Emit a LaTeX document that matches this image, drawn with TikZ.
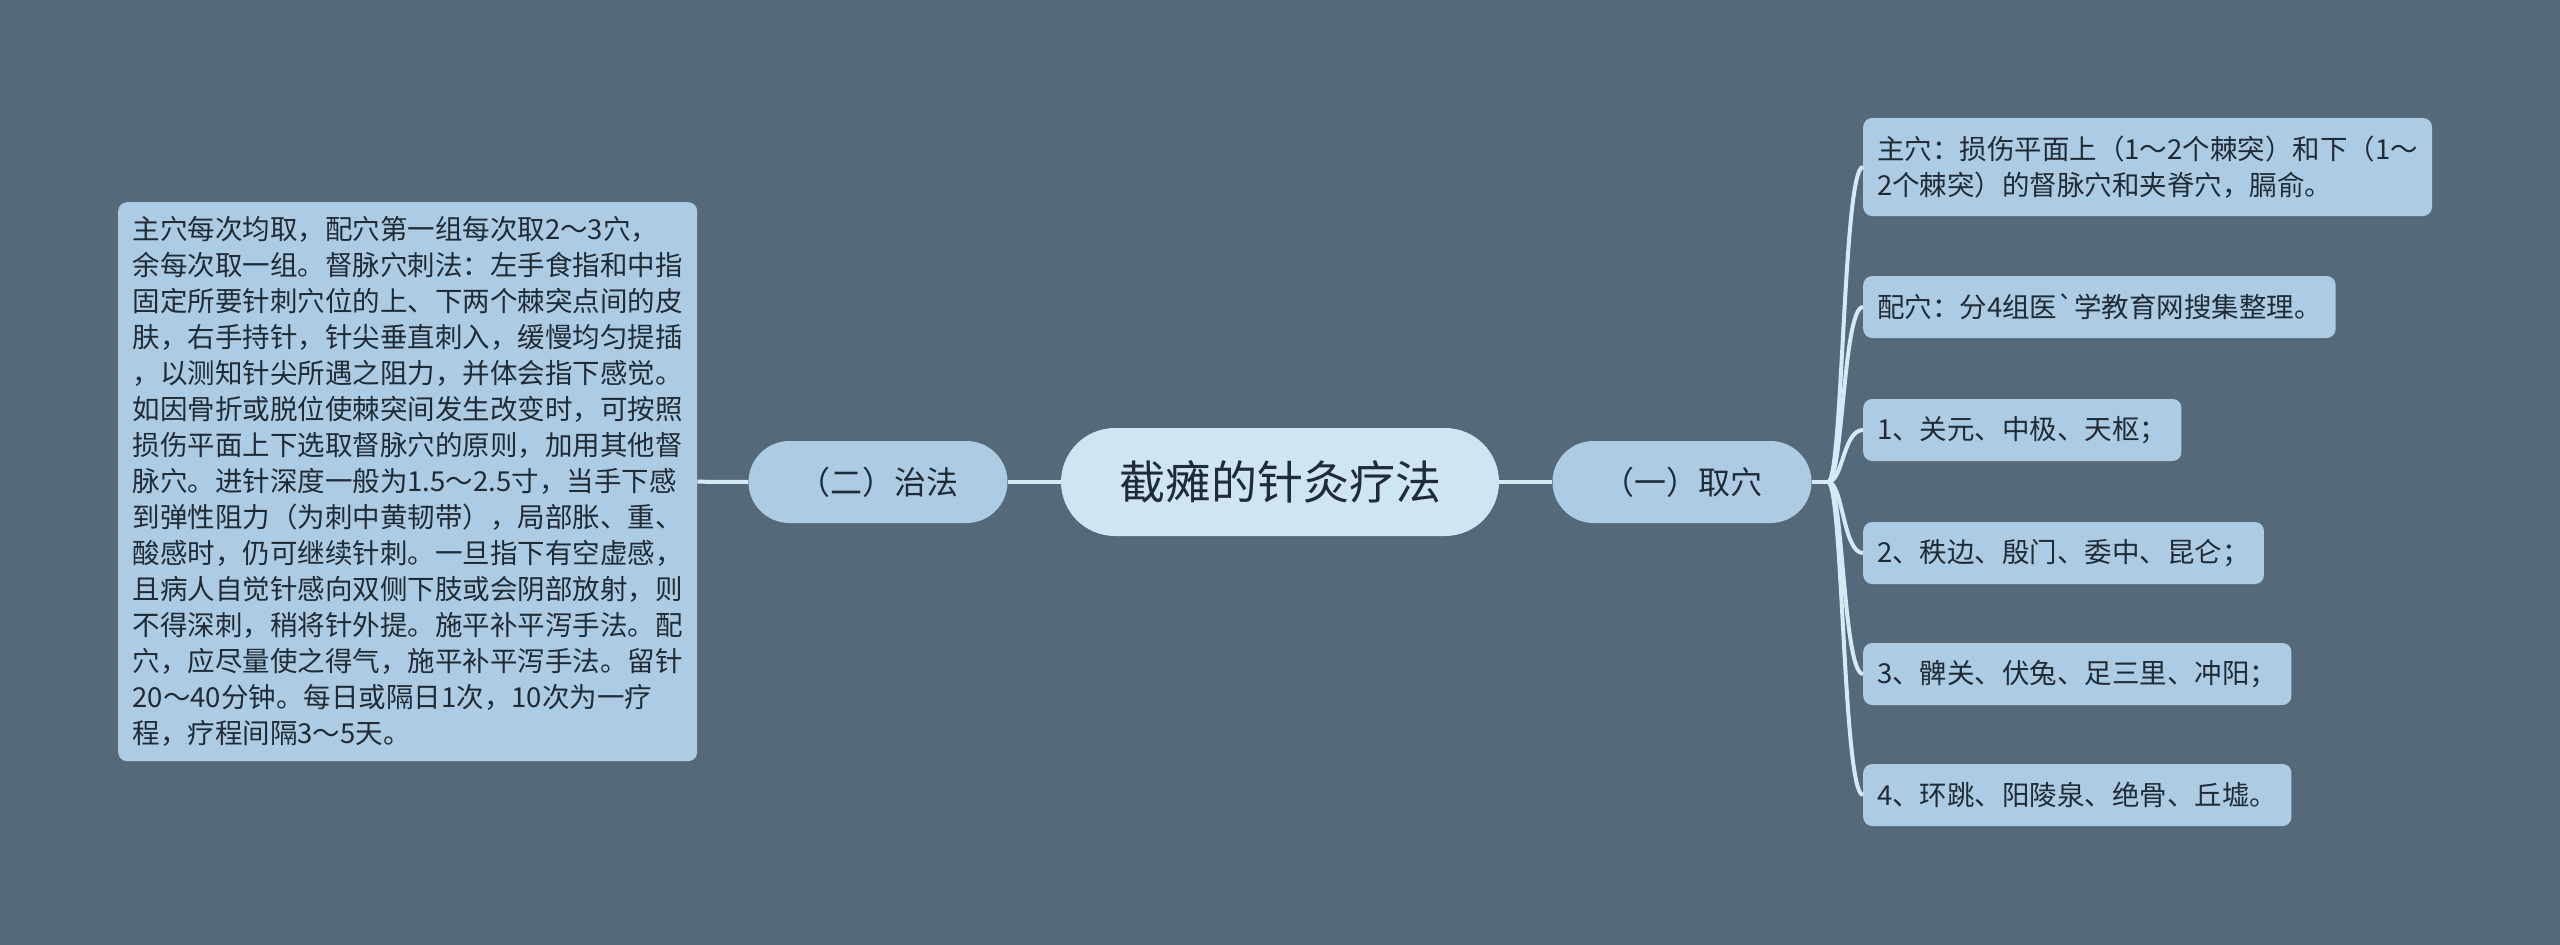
\documentclass[tikz,border=0pt]{standalone}
\usepackage{fontspec}
\usepackage{tikz}
\newfontfamily\cjk{Noto Sans CJK SC}[Ligatures=TeXOff]

\definecolor{bgslate}{HTML}{546A7A}
\definecolor{leafblue}{HTML}{ADCCE3}
\definecolor{rootblue}{HTML}{CFE6F2}
\definecolor{linecol}{HTML}{D4EAF5}
\definecolor{ink}{HTML}{1F2B36}

\begin{document}
\begin{tikzpicture}[x=1pt,y=-1pt,
        leaf/.style={fill=leafblue, rounded corners=9, text=ink, anchor=west, align=left,
            inner xsep=14, inner ysep=4, font=\cjk\fontsize{27.5}{36}\selectfont},
        topic/.style={fill=leafblue, rounded corners=41, text=ink, minimum width=259,
            minimum height=82, font=\cjk\fontsize{32}{38}\selectfont},
        link/.style={draw=linecol, line width=4}]
        % the background
        \fill[bgslate] (0,0) rectangle (2560,945);
        \useasboundingbox (0,0) rectangle (2560,945);

        % the centre and the two topics
        \node[fill=rootblue, rounded corners=54, minimum width=438, minimum height=108,
            text=ink, font=\cjk\fontsize{46}{52}\selectfont] (root) at (1280,482) {截瘫的针灸疗法};
        \node[topic] (zf) at (878,482) {（二）治法};
        \node[topic] (qx) at (1682,482) {（一）取穴};

        % the texts
        \node[leaf, anchor=north west, minimum width=579, minimum height=559] (way) at (118,202)
            {主穴每次均取，配穴第一组每次取2～3穴，\\
             余每次取一组。督脉穴刺法：左手食指和中指\\
             固定所要针刺穴位的上、下两个棘突点间的皮\\
             肤，右手持针，针尖垂直刺入，缓慢均匀提插\\
             ，以测知针尖所遇之阻力，并体会指下感觉。\\
             如因骨折或脱位使棘突间发生改变时，可按照\\
             损伤平面上下选取督脉穴的原则，加用其他督\\
             脉穴。进针深度一般为1.5～2.5寸，当手下感\\
             到弹性阻力（为刺中黄韧带），局部胀、重、\\
             酸感时，仍可继续针刺。一旦指下有空虚感，\\
             且病人自觉针感向双侧下肢或会阴部放射，则\\
             不得深刺，稍将针外提。施平补平泻手法。配\\
             穴，应尽量使之得气，施平补平泻手法。留针\\
             20～40分钟。每日或隔日1次，10次为一疗\\
             程，疗程间隔3～5天。};

        \node[leaf, minimum height=98] (a1) at (1863,167)
            {主穴：损伤平面上（1～2个棘突）和下（1～\\2个棘突）的督脉穴和夹脊穴，膈俞。};
        \node[leaf, minimum height=62] (a2) at (1863,307) {配穴：分4组医`学教育网搜集整理。};
        \node[leaf, minimum height=62] (a3) at (1863,430) {1、关元、中极、天枢；};
        \node[leaf, minimum height=62] (a4) at (1863,553) {2、秩边、殷门、委中、昆仑；};
        \node[leaf, minimum height=62] (a5) at (1863,674) {3、髀关、伏兔、足三里、冲阳；};
        \node[leaf, minimum height=62] (a6) at (1863,795) {4、环跳、阳陵泉、绝骨、丘墟。};

        % draw the links
        \coordinate (fork) at (1828,482);
        \draw[link] (way.east) -- (zf.west);
        \draw[link] (zf.east) -- (root.west);
        \draw[link] (root.east) -- (qx.west);
        \draw[link] (qx.east) -- (fork);
        \foreach \leafname in {a1,a2,a3,a4,a5,a6}
            \draw[link] (fork) .. controls +(15,0) and +(-20,0) .. (\leafname.west);

\end{tikzpicture}
\end{document}
